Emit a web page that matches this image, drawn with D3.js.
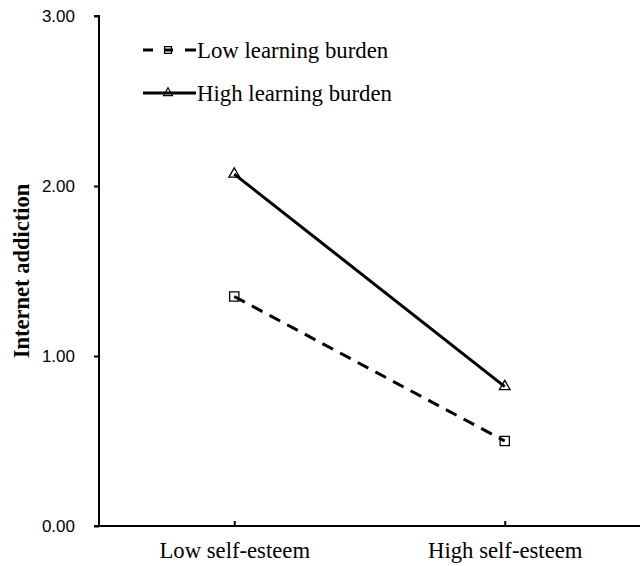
<!DOCTYPE html>
<html>
<head>
<meta charset="utf-8">
<script src="https://cdn.jsdelivr.net/npm/d3@7"></script>
<style>
  body { margin: 0; background: #fff; }
</style>
</head>
<body>
<div id="chart"></div>
<script>
// categories and series
var categories = ["Low self-esteem", "High self-esteem"];
var lowBurden = [1.35, 0.50];
var highBurden = [2.07, 0.82];
var yTicks = [0, 1, 2, 3];
var seriesNames = ["Low learning burden", "High learning burden"];

var SERIF = "'Liberation Serif', 'Times New Roman', serif";
var SANS = "'Liberation Sans', Arial, sans-serif";
var width = 641, height = 566;
var margin = {top: 16, right: 1, bottom: 40, left: 99};

var svg = d3.select("#chart").append("svg")
    .attr("width", width)
    .attr("height", height);

var x = d3.scalePoint()
    .domain(categories)
    .range([margin.left, width - margin.right])
    .padding(0.5);

var y = d3.scaleLinear()
    .domain([0, 3])
    .range([height - margin.bottom, margin.top]);

// Y axis, tick labels in sans
var yAxis = d3.axisLeft(y)
    .tickValues(yTicks)
    .tickFormat(d3.format(".2f"))
    .tickSize(5)
    .tickPadding(19);

var gy = svg.append("g")
    .attr("transform", "translate(" + margin.left + ",0)")
    .call(yAxis);
gy.select(".domain").attr("d", "M-5," + y(3) + "H0V" + y(0));
gy.selectAll("line, path").attr("stroke", "#000").attr("stroke-width", 2);
gy.selectAll("text").attr("font-size", 17).attr("fill", "#000").style("font-family", SANS);

// X axis, ticks pointing up
var xAxis = d3.axisBottom(x).tickSize(-5).tickSizeOuter(0).tickPadding(16);
var gx = svg.append("g")
    .attr("transform", "translate(0," + y(0) + ")")
    .call(xAxis);
gx.select(".domain").attr("d", "M" + (margin.left - 5) + ",0H" + (width - margin.right));
gx.selectAll("line, path").attr("stroke", "#000").attr("stroke-width", 2);
gx.selectAll("text").attr("font-size", 22.7).attr("fill", "#000").style("font-family", SERIF);

// Y label
svg.append("text")
    .attr("transform", "translate(22," + ((y(0) + y(3)) / 2) + ") rotate(-90)")
    .attr("dy", "0.33em")
    .attr("text-anchor", "middle")
    .attr("font-size", 22.5)
    .attr("font-weight", "bold")
    .style("font-family", SERIF)
    .text("Internet addiction");

var line = d3.line()
    .x(function(d, i) { return x(categories[i]); })
    .y(function(d) { return y(d); });

// Lines
svg.append("path")
    .attr("d", line(lowBurden))
    .attr("fill", "none")
    .attr("stroke", "#000")
    .attr("stroke-width", 3)
    .attr("stroke-dasharray", "12,8");

svg.append("path")
    .attr("d", line(highBurden))
    .attr("fill", "none")
    .attr("stroke", "#000")
    .attr("stroke-width", 3);

var square = d3.symbol().type(d3.symbolSquare).size(85);
var triangle = d3.symbol().type(d3.symbolTriangle).size(50);

svg.selectAll(".sq")
    .data(lowBurden)
    .join("path")
    .attr("class", "sq")
    .attr("transform", function(d, i) { return "translate(" + x(categories[i]) + "," + y(d) + ")"; })
    .attr("d", square)
    .attr("fill", "none")
    .attr("stroke", "#000")
    .attr("stroke-width", 1.3);

svg.selectAll(".tri")
    .data(highBurden)
    .join("path")
    .attr("class", "tri")
    .attr("transform", function(d, i) { return "translate(" + x(categories[i]) + "," + y(d) + ")"; })
    .attr("d", triangle)
    .attr("fill", "none")
    .attr("stroke", "#000")
    .attr("stroke-width", 1.3);

// Legend
var legend = svg.append("g");
var rows = [
  {name: seriesNames[0], y: 50, dash: "10,12,8,12,12", sym: d3.symbol().type(d3.symbolSquare).size(48)},
  {name: seriesNames[1], y: 93, dash: null, sym: d3.symbol().type(d3.symbolTriangle).size(36)}
];
rows.forEach(function(r) {
    legend.append("line")
        .attr("x1", 143).attr("x2", 196)
        .attr("y1", r.y).attr("y2", r.y)
        .attr("stroke", "#000")
        .attr("stroke-width", 3)
        .attr("stroke-dasharray", r.dash);
    legend.append("path")
        .attr("transform", "translate(168," + r.y + ")")
        .attr("d", r.sym)
        .attr("fill", "none")
        .attr("stroke", "#000")
        .attr("stroke-width", 1.2);
    legend.append("text")
        .attr("x", 197)
        .attr("y", r.y)
        .attr("dy", "0.33em")
        .attr("font-size", 22.8)
        .style("font-family", SERIF)
        .text(r.name);
});
</script>
</body>
</html>
